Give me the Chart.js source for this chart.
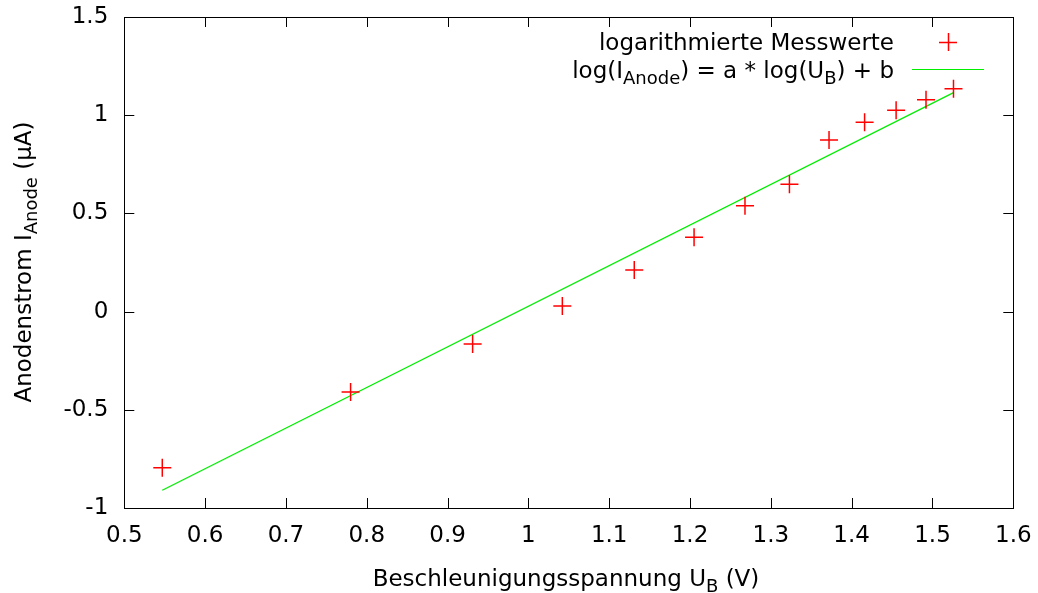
<!DOCTYPE html>
<html>
<head>
<meta charset="utf-8">
<script src="https://cdn.jsdelivr.net/npm/chart.js@4/dist/chart.umd.min.js"></script>
<style>
  html, body { margin: 0; padding: 0; background: #fff; }
  #c { display: block; }
</style>
</head>
<body>
<canvas id="c" width="1038" height="593"></canvas>
<script>
// Messwerte (logarithmiert)
const uB = [0.547, 0.780, 0.931, 1.042, 1.131, 1.205, 1.268, 1.323, 1.372, 1.416, 1.455, 1.492, 1.526];
const iAnode = [-0.795, -0.409, -0.165, 0.029, 0.212, 0.378, 0.539, 0.648, 0.874, 0.964, 1.025, 1.079, 1.135];

// Fitgerade, Endpunkte
const fitX = [0.547, 1.526];
const fitY = [-0.910, 1.115];

// Achsen
const xTicks = [0.5, 0.6, 0.7, 0.8, 0.9, 1, 1.1, 1.2, 1.3, 1.4, 1.5, 1.6];
const yTicks = [-1, -0.5, 0, 0.5, 1, 1.5];

const xTitle = [{ t: 'Beschleunigungsspannung U' }, { t: 'B', sub: true }, { t: ' (V)' }];
const yTitle = [{ t: 'Anodenstrom I' }, { t: 'Anode', sub: true }, { t: ' (µA)' }];
const legendPts = [{ t: 'logarithmierte Messwerte' }];
const legendFit = [{ t: 'log(I' }, { t: 'Anode', sub: true }, { t: ') = a * log(U' }, { t: 'B', sub: true }, { t: ') + b' }];

const FONT = "'DejaVu Sans', sans-serif";
const SIZE = 23, SUB = 18;
const colors = { points: '#ff0000', fit: '#00ee00', axis: '#000000' };

Chart.defaults.font.family = FONT;
Chart.defaults.font.size = SIZE;
Chart.defaults.color = '#000';

// Text mit Tiefstellung
function richWidth(ctx, parts) {
    let w = 0;
    parts.forEach(p => {
        ctx.font = (p.sub ? SUB : SIZE) + 'px ' + FONT;
        w += ctx.measureText(p.t).width;
    });
    return w;
}

function drawRich(ctx, parts, x, y, align) {
    const w = richWidth(ctx, parts);
    let cx = align === 'right' ? x - w : (align === 'center' ? x - w / 2 : x);
    ctx.textBaseline = 'alphabetic';
    ctx.textAlign = 'left';
    parts.forEach(p => {
        ctx.font = (p.sub ? SUB : SIZE) + 'px ' + FONT;
        ctx.fillText(p.t, cx, p.sub ? y + 6 : y);
        cx += ctx.measureText(p.t).width;
    });
}

// keine automatische Randabstände für Tick-Labels
function noPad(s) {
    s.paddingTop = 0; s.paddingBottom = 0;
    s.paddingLeft = 0; s.paddingRight = 0;
}

const framePlugin = {
    id: 'frame',
    afterDraw(chart) {
        const ctx = chart.ctx;
        const a = chart.chartArea;
        const xs = chart.scales.x, ys = chart.scales.y;
        const tick = 10;
        ctx.save();
        ctx.strokeStyle = colors.axis;
        ctx.lineWidth = 1;
        ctx.beginPath();
        xTicks.forEach(v => {
            const px = Math.round(xs.getPixelForValue(v)) + 0.5;
            ctx.moveTo(px, a.bottom); ctx.lineTo(px, a.bottom - tick);
            ctx.moveTo(px, a.top); ctx.lineTo(px, a.top + tick);
        });
        yTicks.forEach(v => {
            const py = Math.round(ys.getPixelForValue(v)) + 0.5;
            ctx.moveTo(a.left, py); ctx.lineTo(a.left + tick, py);
            ctx.moveTo(a.right, py); ctx.lineTo(a.right - tick, py);
        });
        ctx.stroke();
        ctx.strokeRect(Math.round(a.left) + 0.5, Math.round(a.top) + 0.5,
            Math.round(a.right - a.left), Math.round(a.bottom - a.top));

        ctx.fillStyle = '#000';
        // Achsentitel
        drawRich(ctx, xTitle, 566, 586, 'center');
        ctx.save();
        ctx.translate(31, 262);
        ctx.rotate(-Math.PI / 2);
        drawRich(ctx, yTitle, 0, 0, 'center');
        ctx.restore();

        // Legende
        drawRich(ctx, legendPts, 894, 50, 'right');
        drawRich(ctx, legendFit, 894, 77.5, 'right');
        ctx.strokeStyle = colors.points;
        ctx.lineWidth = 1.5;
        ctx.beginPath();
        ctx.moveTo(939, 42.5); ctx.lineTo(957, 42.5);
        ctx.moveTo(948.5, 33); ctx.lineTo(948.5, 51);
        ctx.stroke();
        ctx.strokeStyle = colors.fit;
        ctx.lineWidth = 1;
        ctx.beginPath();
        ctx.moveTo(912, 69.5); ctx.lineTo(984, 69.5);
        ctx.stroke();
        ctx.restore();
    }
};

new Chart(document.getElementById('c'), {
    type: 'scatter',
    data: {
        datasets: [
            {
                label: 'logarithmierte Messwerte',
                data: uB.map((x, i) => ({ x: x, y: iAnode[i] })),
                pointStyle: 'cross',
                pointRadius: 9,
                borderColor: colors.points,
                backgroundColor: colors.points,
                pointBorderWidth: 1.5,
                order: 1
            },
            {
                label: 'log(I_Anode) = a * log(U_B) + b',
                data: fitX.map((x, i) => ({ x: x, y: fitY[i] })),
                showLine: true,
                pointRadius: 0,
                borderColor: colors.fit,
                borderWidth: 1.2,
                order: 2
            }
        ]
    },
    options: {
        responsive: false,
        animation: false,
        devicePixelRatio: 1,
        layout: { padding: { top: 17, right: 24.7, left: 0, bottom: 0 } },
        plugins: {
            legend: { display: false },
            tooltip: { enabled: false }
        },
        scales: {
            x: {
                type: 'linear',
                min: 0.5,
                max: 1.6,
                afterBuildTicks: s => { s.ticks = xTicks.map(v => ({ value: v })); },
                afterFit: s => { s.height = 85; noPad(s); },
                grid: { display: false, drawTicks: false },
                border: { display: false },
                ticks: {
                    padding: 14,
                    maxRotation: 0,
                    autoSkip: false,
                    font: { size: SIZE },
                    callback: v => String(+v.toFixed(1))
                }
            },
            y: {
                min: -1,
                max: 1.5,
                afterBuildTicks: s => { s.ticks = yTicks.map(v => ({ value: v })); },
                afterFit: s => { s.width = 124.3; noPad(s); },
                grid: { display: false, drawTicks: false },
                border: { display: false },
                ticks: {
                    padding: 16,
                    autoSkip: false,
                    font: { size: SIZE },
                    callback: v => String(+v.toFixed(1))
                }
            }
        }
    },
    plugins: [framePlugin]
});
</script>
</body>
</html>
